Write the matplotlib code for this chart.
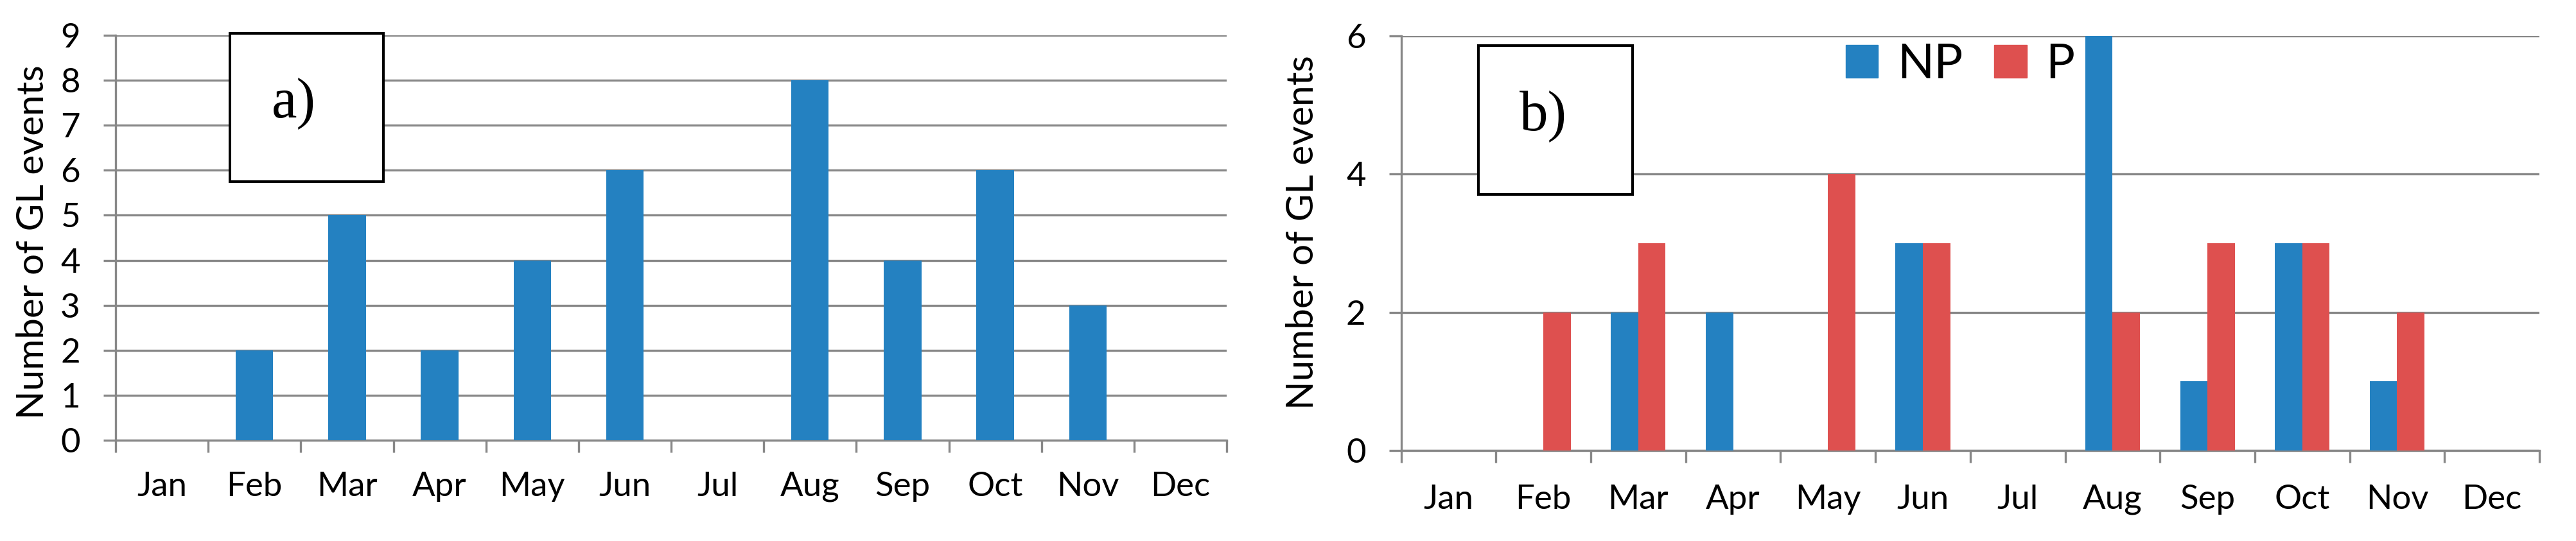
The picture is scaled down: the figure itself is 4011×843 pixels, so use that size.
import matplotlib
matplotlib.use("Agg")
import matplotlib.pyplot as plt
from matplotlib.patches import Rectangle, Patch
import numpy as np

# data
months = ["Jan", "Feb", "Mar", "Apr", "May", "Jun",
          "Jul", "Aug", "Sep", "Oct", "Nov", "Dec"]
all_events = [0, 2, 5, 2, 4, 6, 0, 8, 4, 6, 3, 0]
np_events = [0, 0, 2, 2, 0, 3, 0, 6, 1, 3, 1, 0]
p_events = [0, 2, 3, 0, 4, 3, 0, 2, 3, 3, 2, 0]

BLUE = "#2481C1"
RED = "#DE504F"
GREY = "#888888"

W, H, DPI = 4011, 843, 100
plt.rcParams['font.family'] = ['Lato', 'DejaVu Sans']

fig = plt.figure(figsize=(W / DPI, H / DPI), dpi=DPI)


def px_axes(left, top, right, bottom):
    return fig.add_axes([left / W, 1 - bottom / H, (right - left) / W, (bottom - top) / H])


def style(ax, ymax, step, xpad):
    ax.set_xlim(-0.5, 11.5)
    ax.set_ylim(0, ymax)
    ax.set_yticks(np.arange(0, ymax + 1, step))
    ax.set_xticks(np.arange(12))
    ax.set_xticklabels(months)
    ax.set_xticks(np.arange(-0.5, 12, 1), minor=True)
    ax.tick_params(axis='x', which='major', length=0, pad=xpad, labelsize=38)
    ax.tick_params(axis='x', which='minor', length=13.7, width=2.4, color=GREY, direction='out')
    ax.tick_params(axis='y', length=13.7, width=2.4, color=GREY, pad=26, labelsize=38)
    ax.grid(axis='y', color=GREY, linewidth=2.4)
    ax.set_axisbelow(True)
    for s in ['top', 'right']:
        ax.spines[s].set_visible(False)
    for s in ['left', 'bottom']:
        ax.spines[s].set_color(GREY)
        ax.spines[s].set_linewidth(2.4)


x = np.arange(len(months))

# panel a
ax_a = px_axes(180, 55, 1910, 686)
ax_a.bar(x, all_events, width=0.404, color=BLUE, zorder=3)
style(ax_a, 9, 1, 35)
ax_a.set_ylabel("Number of GL events", fontsize=42)
ax_a.yaxis.set_label_coords(68 / W, 1 - 377 / H, transform=fig.transFigure)
ax_a.yaxis.label.set_va('baseline')

# panel b
ax_b = px_axes(2181.7, 56, 3954, 702)
bw = 0.288
ax_b.bar(x - bw / 2, np_events, width=bw, color=BLUE, zorder=3)
ax_b.bar(x + bw / 2, p_events, width=bw, color=RED, zorder=3)
style(ax_b, 6, 2, 38)
ax_b.set_ylabel("Number of GL events", fontsize=42)
ax_b.yaxis.set_label_coords(2044.5 / W, 1 - 362 / H, transform=fig.transFigure)
ax_b.yaxis.label.set_va('baseline')

fig.legend(handles=[Patch(color=BLUE, label='NP'), Patch(color=RED, label='P')],
           loc='upper left', bbox_to_anchor=(2874 / W, 1 - 66 / H), ncol=2,
           frameon=False, fontsize=54, handlelength=0.67, handleheight=0.67,
           handletextpad=0.4, columnspacing=0.65, borderpad=0, borderaxespad=0)

# panel tags in boxes
for (l, t, r, b), tag, tx, ty in [((358, 52, 597, 283), "a)", 423, 183),
                                  ((2302, 70.5, 2542, 302.8), "b)", 2365.5, 203.5)]:
    fig.add_artist(Rectangle((l / W, 1 - b / H), (r - l) / W, (b - t) / H,
                             transform=fig.transFigure, facecolor='white',
                             edgecolor='black', linewidth=2.9, zorder=5))
    fig.text(tx / W, 1 - ty / H, tag, family='Liberation Serif', fontsize=64,
             ha='left', va='baseline', zorder=6)

fig.savefig("out.png", dpi=DPI)
